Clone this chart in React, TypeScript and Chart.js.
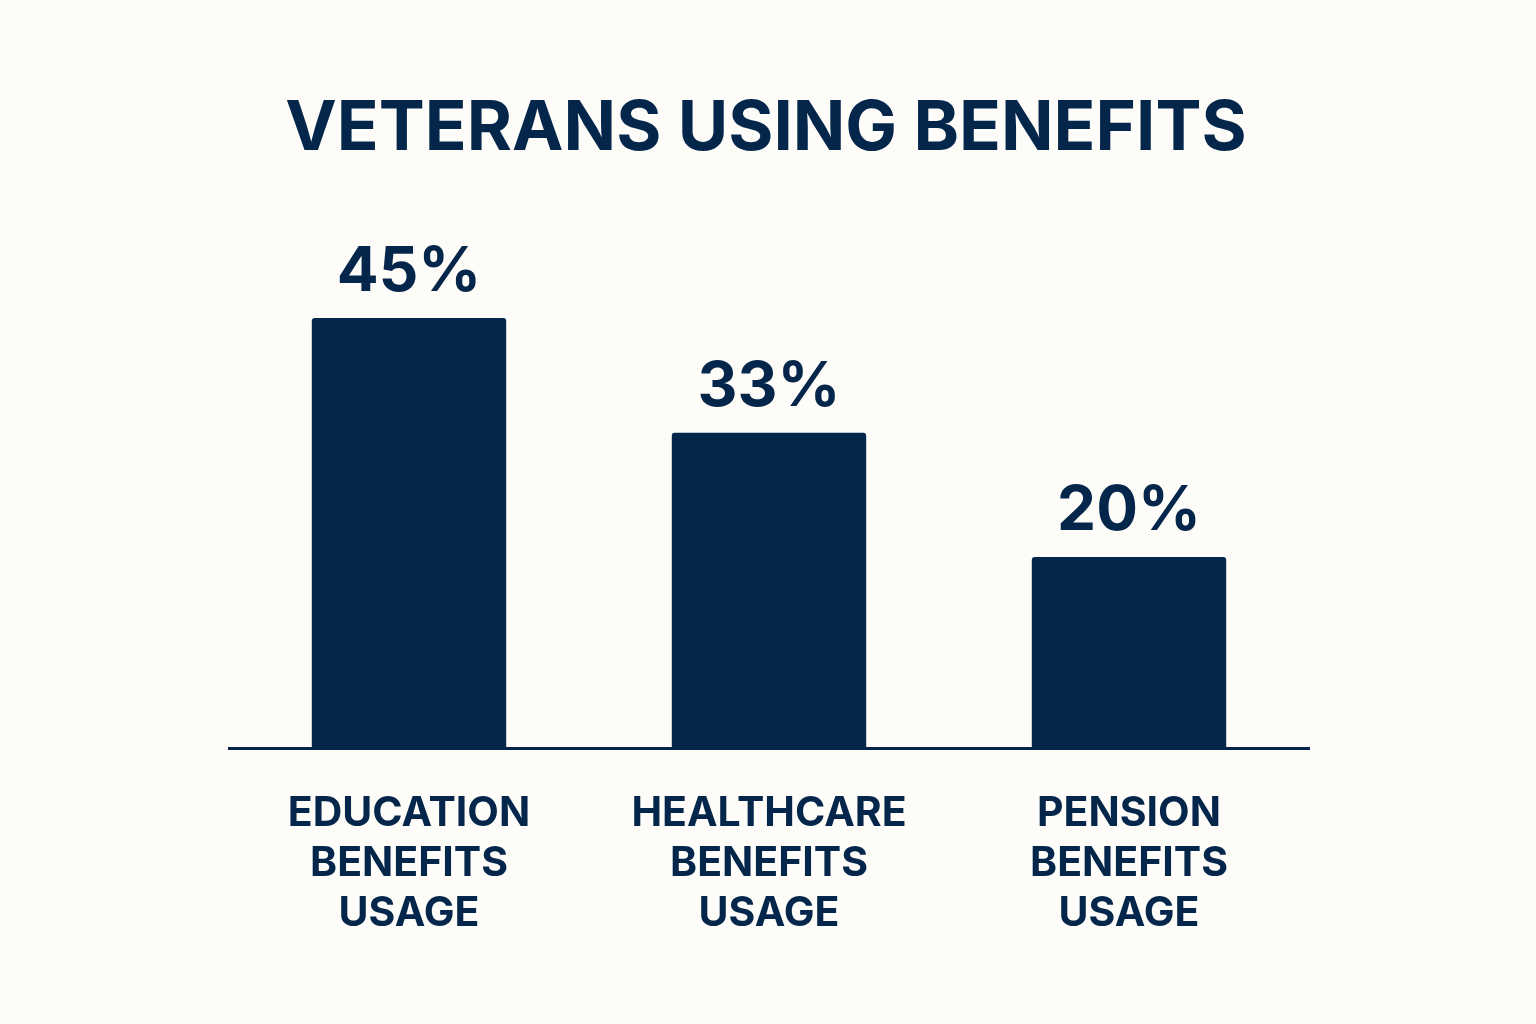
import { useEffect, useRef } from "react";
import { Chart, registerables } from "chart.js";

Chart.register(...registerables);

const CATEGORIES = [
  ["EDUCATION", "BENEFITS", "USAGE"],
  ["HEALTHCARE", "BENEFITS", "USAGE"],
  ["PENSION", "BENEFITS", "USAGE"],
];
const USAGE_PCT = [45, 33, 20];
const TITLE = "VETERANS USING BENEFITS";

const NAVY = "#04264b";
const BG = "#fdfcf8";
const FONT = "Inter, 'Noto Sans', sans-serif";

const overlay = {
  id: "overlay",
  beforeDraw(chart: Chart) {
    const { ctx, width, height } = chart;
    ctx.save();
    ctx.fillStyle = BG;
    ctx.fillRect(0, 0, width, height);
    ctx.restore();
  },
  afterDraw(chart: Chart) {
    const { ctx } = chart;
    ctx.save();
    ctx.fillStyle = NAVY;
    ctx.textAlign = "center";
    ctx.textBaseline = "alphabetic";
    ctx.font = `700 69px ${FONT}`;
    ctx.fillText(TITLE, 766, 150);

    ctx.font = `700 62px ${FONT}`;
    const meta = chart.getDatasetMeta(0);
    meta.data.forEach((bar, i) => {
      ctx.fillText(`${USAGE_PCT[i]}%`, bar.x, bar.y - 27);
    });
    ctx.restore();
  },
};

export default function App() {
  const canvasRef = useRef<HTMLCanvasElement>(null);

  useEffect(() => {
    document.body.style.margin = "0";
    document.body.style.background = BG;
    if (!canvasRef.current) return;
    const chart = new Chart(canvasRef.current, {
      type: "bar",
      data: {
        labels: CATEGORIES,
        datasets: [
          {
            data: USAGE_PCT,
            backgroundColor: NAVY,
            barPercentage: 0.54,
            categoryPercentage: 1,
            borderRadius: 3,
            borderSkipped: "bottom",
          },
        ],
      },
      options: {
        responsive: false,
        animation: false,
        layout: { padding: { top: 275, left: 229, right: 227, bottom: 0 } },
        plugins: {
          legend: { display: false },
          tooltip: { enabled: false },
          title: { display: false },
        },
        scales: {
          x: {
            grid: { display: false, drawTicks: false },
            border: { display: true, color: NAVY, width: 3 },
            ticks: {
              color: NAVY,
              padding: 41,
              font: { family: FONT, size: 41, weight: "bold", lineHeight: 50 / 41 },
            },
            afterFit: (scale) => {
              scale.height = 1024 - 748;
            },
          },
          y: {
            display: false,
            min: 0,
            max: 49.5,
          },
        },
      },
      plugins: [overlay],
    });
    return () => chart.destroy();
  }, []);

  return <canvas ref={canvasRef} width={1536} height={1024} style={{ display: "block" }} />;
}
